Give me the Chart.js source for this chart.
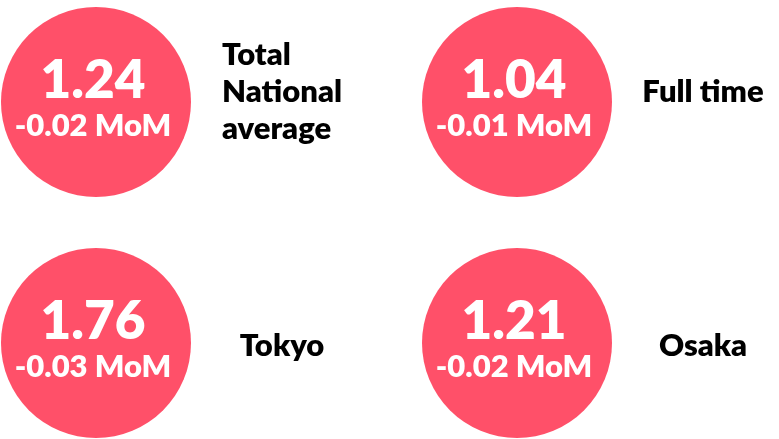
<!DOCTYPE html>
<html>
<head>
<meta charset="utf-8">
<script src="https://cdn.jsdelivr.net/npm/chart.js@4"></script>
<style>
  html, body { margin: 0; padding: 0; background: #fff; }
  #wrap { width: 779px; height: 439px; }
</style>
</head>
<body>
<div id="wrap"><canvas id="kpiChart"></canvas></div>
<script>
// Data
const cols = [0, 1, 0, 1];
const rows = [0, 0, 1, 1];
const ratios = ['1.24', '1.04', '1.76', '1.21'];
const changes = [-0.02, -0.01, -0.03, -0.02];
const names = [['Total', 'National', 'average'], ['Full time'], ['Tokyo'], ['Osaka']];

const FONT = 'Lato, "Open Sans", sans-serif';
const PINK = '#ff5069';

// Text inside and beside each bubble
const kpiText = {
    id: 'kpiText',
    afterDatasetsDraw(chart) {
        const ctx = chart.ctx;
        chart.getDatasetMeta(0).data.forEach((pt, i) => {
            ctx.save();
            ctx.fillStyle = '#fff';
            ctx.textAlign = 'center';
            ctx.textBaseline = 'alphabetic';
            ctx.font = `800 53px ${FONT}`;
            ctx.fillText(ratios[i], pt.x - 3, pt.y - 4);
            ctx.font = `800 31px ${FONT}`;
            ctx.fillText(`${changes[i].toFixed(2)} MoM`, pt.x - 3, pt.y + 34);

            // label block, left aligned, centred beside the bubble
            ctx.fillStyle = '#000';
            ctx.font = `800 31px ${FONT}`;
            ctx.textAlign = 'left';
            ctx.textBaseline = 'middle';
            const lines = names[i];
            const lh = 37;
            const w = Math.max(...lines.map(l => ctx.measureText(l).width));
            const left = pt.x + 186 - w / 2;
            const mid = pt.y + (rows[i] === 0 ? -10 : 3);
            const top = mid - (lines.length - 1) * lh / 2;
            lines.forEach((l, j) => ctx.fillText(l, left, top + j * lh));
            ctx.restore();
        });
    }
};

new Chart(document.getElementById('kpiChart'), {
    type: 'scatter',
    data: {
        datasets: [{
            data: cols.map((c, i) => ({ x: c, y: rows[i] })),
            backgroundColor: PINK,
            borderWidth: 0,
            pointRadius: 95,
            pointHoverRadius: 95,
            clip: false
        }]
    },
    options: {
        responsive: true,
        maintainAspectRatio: false,
        animation: false,
        events: [],
        layout: { padding: 0, autoPadding: false },
        plugins: { legend: { display: false }, tooltip: { enabled: false } },
        scales: {
            x: { display: false, min: -0.2280, max: 1.6223 },
            y: { display: false, reverse: true, min: -0.4232, max: 1.3983 }
        }
    },
    plugins: [kpiText]
});
</script>
</body>
</html>
